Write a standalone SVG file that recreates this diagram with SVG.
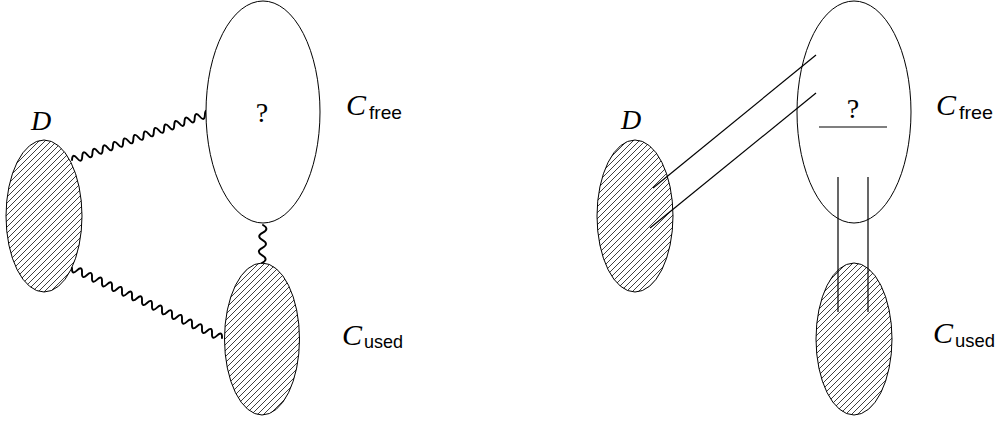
<svg xmlns="http://www.w3.org/2000/svg" width="1000" height="423" viewBox="0 0 1000 423">
<style>
.bg{fill:#fff}
.open{fill:#fff;stroke:#000;stroke-width:1}
.hatch{fill:url(#nel);stroke:#000;stroke-width:1}
.wave{fill:none;stroke:#000;stroke-width:1.9;stroke-linecap:round}
.line{fill:none;stroke:#000;stroke-width:1.2}
.it{font-family:"Liberation Serif",serif;font-style:italic;font-size:30px;fill:#000}
.dl{font-family:"Liberation Serif",serif;font-style:italic;font-size:28px;fill:#000}
.rm{font-family:"Liberation Serif",serif;font-size:28px;fill:#000;text-anchor:middle}
.sub{font-family:"Liberation Sans",sans-serif;font-size:19px;fill:#000}
</style>
<defs>
<pattern id="nel" width="6" height="6" patternUnits="userSpaceOnUse">
<path d="M-1 7 L7 -1 M-1 1 L1 -1 M5 7 L7 5" stroke="#000" stroke-width="0.75"/>
</pattern>
</defs>
<rect class="bg" x="0" y="0" width="1000" height="423"/>

<g id="connectors">
<path class="wave" transform="translate(72,160) rotate(-18.8)" d="M0 0 q2.7 -7 5.4 0 t5.4 0 t5.4 0 t5.4 0 t5.4 0 t5.4 0 t5.4 0 t5.4 0 t5.4 0 t5.4 0 t5.4 0 t5.4 0 t5.4 0 t5.4 0 t5.4 0 t5.4 0 t5.4 0 t5.4 0 t5.4 0 t5.4 0 t5.4 0 t5.4 0 t5.4 0 t5.4 0 t5.4 0 t5.4 0 t5.4 0"/>
<path class="wave" transform="translate(72,268) rotate(25)" d="M0 0 q2.758 7 5.517 0 t5.517 0 t5.517 0 t5.517 0 t5.517 0 t5.517 0 t5.517 0 t5.517 0 t5.517 0 t5.517 0 t5.517 0 t5.517 0 t5.517 0 t5.517 0 t5.517 0 t5.517 0 t5.517 0 t5.517 0 t5.517 0 t5.517 0 t5.517 0 t5.517 0 t5.517 0 t5.517 0 t5.517 0 t5.517 0 t5.517 0 t5.517 0 t5.517 0 t5.517 0"/>
<path class="wave" transform="translate(263,225) rotate(91.5)" d="M0 0 q3.8 -7 7.6 0 t7.6 0 t7.6 0 t7.6 0 t7.6 0"/>
</g>

<g id="left-D">
<ellipse class="hatch" cx="44" cy="216" rx="38" ry="76"/>
<text class="dl" x="31" y="130">D</text>
</g>
<g id="left-Cfree">
<ellipse class="open" cx="263" cy="112" rx="57" ry="111"/>
<text class="rm" x="262" y="122">?</text>
<text class="it" x="346" y="115">C</text>
<text class="sub" x="369" y="119" textLength="33" lengthAdjust="spacingAndGlyphs">free</text>
</g>
<g id="left-Cused">
<ellipse class="hatch" cx="262" cy="339" rx="37.5" ry="76"/>
<text class="it" x="342" y="345">C</text>
<text class="sub" x="364" y="348" textLength="39" lengthAdjust="spacingAndGlyphs">used</text>
</g>

<g id="right-D">
<ellipse class="hatch" cx="635" cy="216" rx="38" ry="76"/>
<text class="dl" x="621" y="129">D</text>
</g>
<g id="right-Cfree">
<ellipse class="open" cx="854" cy="112" rx="57" ry="111"/>
<text class="rm" x="853" y="118">?</text>
<line class="line" x1="819" y1="127" x2="887" y2="127"/>
<text class="it" x="936" y="115">C</text>
<text class="sub" x="959" y="119" textLength="34" lengthAdjust="spacingAndGlyphs">free</text>
</g>
<g id="right-Cused">
<ellipse class="hatch" cx="854" cy="339" rx="38" ry="76"/>
<text class="it" x="933" y="343">C</text>
<text class="sub" x="955" y="347" textLength="40" lengthAdjust="spacingAndGlyphs">used</text>
</g>

<g id="right-connectors">
<line class="line" x1="816" y1="55" x2="653" y2="188"/>
<line class="line" x1="816" y1="93" x2="650" y2="228"/>
<line class="line" x1="838" y1="177" x2="838" y2="312"/>
<line class="line" x1="868" y1="177" x2="868" y2="312"/>
</g>
</svg>
